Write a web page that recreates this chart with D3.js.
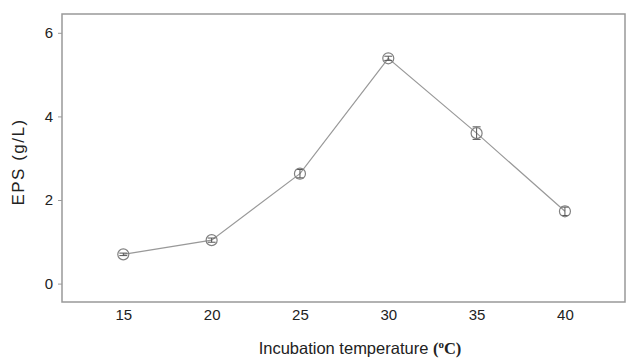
<!DOCTYPE html>
<html lang="en">
    <head>
        <meta charset="utf-8" />
        <title>EPS vs incubation temperature</title>
        <script src="https://d3js.org/d3.v7.min.js"></script>
        <style>
            html, body { margin:0; padding:0; overflow:hidden; background-color:#fff }
            svg { display:block }
            text { font-family: "Liberation Sans", Arial, sans-serif; fill:#222 }
        </style>
    </head>
    <body>
        <svg id="svg" width="626" height="358"></svg>
        <script>
            // values
            var temps = [15, 20, 25, 30, 35, 40];
            var eps = [0.70, 1.04, 2.63, 5.39, 3.60, 1.73];
            var errs = [0.03, 0.05, 0.10, 0.05, 0.15, 0.10];
            var xTicks = [15, 20, 25, 30, 35, 40];
            var yTicks = [0, 2, 4, 6];

            let svg = d3.select("svg");
            let pl = 62, pr = 625, pt = 14, pb = 302;

            let x = d3.scaleLinear()
                .domain([11.53, 43.4])
                .range([pl, pr]);
            let y = d3.scaleLinear()
                .domain([-0.44, 6.45])
                .range([pb, pt]);

            let grey = "#808080";

            // frame
            svg.append("rect")
                .attr("x", pl).attr("y", pt)
                .attr("width", pr - pl).attr("height", pb - pt)
                .attr("fill", "none")
                .attr("stroke", "#999")
                .attr("stroke-width", 1.5);

            // axes
            let xAxis = svg.append("g")
                .attr("transform", "translate(0," + pb + ")")
                .call(d3.axisBottom(x).tickValues(xTicks).tickFormat(d3.format("d")).tickSize(0).tickPadding(7));
            xAxis.select(".domain").remove();
            xAxis.selectAll("text").style("font-size", "15px");

            let yAxis = svg.append("g")
                .attr("transform", "translate(" + pl + ",0)")
                .call(d3.axisLeft(y).tickValues(yTicks).tickFormat(d3.format("d")).tickSize(4).tickPadding(5));
            yAxis.select(".domain").remove();
            yAxis.selectAll("line").attr("stroke", "#999");
            yAxis.selectAll("text").style("font-size", "15px");

            // axis titles
            svg.append("text")
                .attr("transform", "translate(24,162) rotate(-90)")
                .attr("text-anchor", "middle")
                .style("font-size", "17px")
                .style("letter-spacing", "1.5px")
                .text("EPS (g/L)");

            let xt = svg.append("text")
                .attr("x", 360)
                .attr("y", 354)
                .attr("text-anchor", "middle")
                .style("font-size", "16.5px");
            xt.append("tspan").text("Incubation temperature ");
            xt.append("tspan").style("font-family", "'Liberation Serif', serif").style("font-weight", "bold").text("(");
            xt.append("tspan").style("font-family", "'Liberation Serif', serif").style("font-weight", "bold")
                .style("font-size", "11px").attr("dy", -6).text("o");
            xt.append("tspan").style("font-family", "'Liberation Serif', serif").style("font-weight", "bold")
                .attr("dy", 6).text("C)");

            let data = temps.map((t, i) => ({t: t, v: eps[i], e: errs[i]}));

            // line
            svg.append("path")
                .datum(data)
                .attr("fill", "none")
                .attr("stroke", "#999")
                .attr("stroke-width", 1.2)
                .attr("d", d3.line().x(d => x(d.t)).y(d => y(d.v)));

            // error bars
            let eb = svg.append("g").selectAll("g").data(data).join("g")
                .attr("stroke", "#555").attr("stroke-width", 1);
            eb.append("line")
                .attr("x1", d => x(d.t)).attr("x2", d => x(d.t))
                .attr("y1", d => y(d.v - d.e)).attr("y2", d => y(d.v + d.e));
            eb.append("line")
                .attr("x1", d => x(d.t) - 4).attr("x2", d => x(d.t) + 4)
                .attr("y1", d => y(d.v + d.e)).attr("y2", d => y(d.v + d.e));
            eb.append("line")
                .attr("x1", d => x(d.t) - 4).attr("x2", d => x(d.t) + 4)
                .attr("y1", d => y(d.v - d.e)).attr("y2", d => y(d.v - d.e));

            // markers
            svg.append("g").selectAll("circle").data(data).join("circle")
                .attr("cx", d => x(d.t))
                .attr("cy", d => y(d.v))
                .attr("r", 5.5)
                .attr("fill", "none")
                .attr("stroke", grey)
                .attr("stroke-width", 1.2);
        </script>
    </body>
</html>
